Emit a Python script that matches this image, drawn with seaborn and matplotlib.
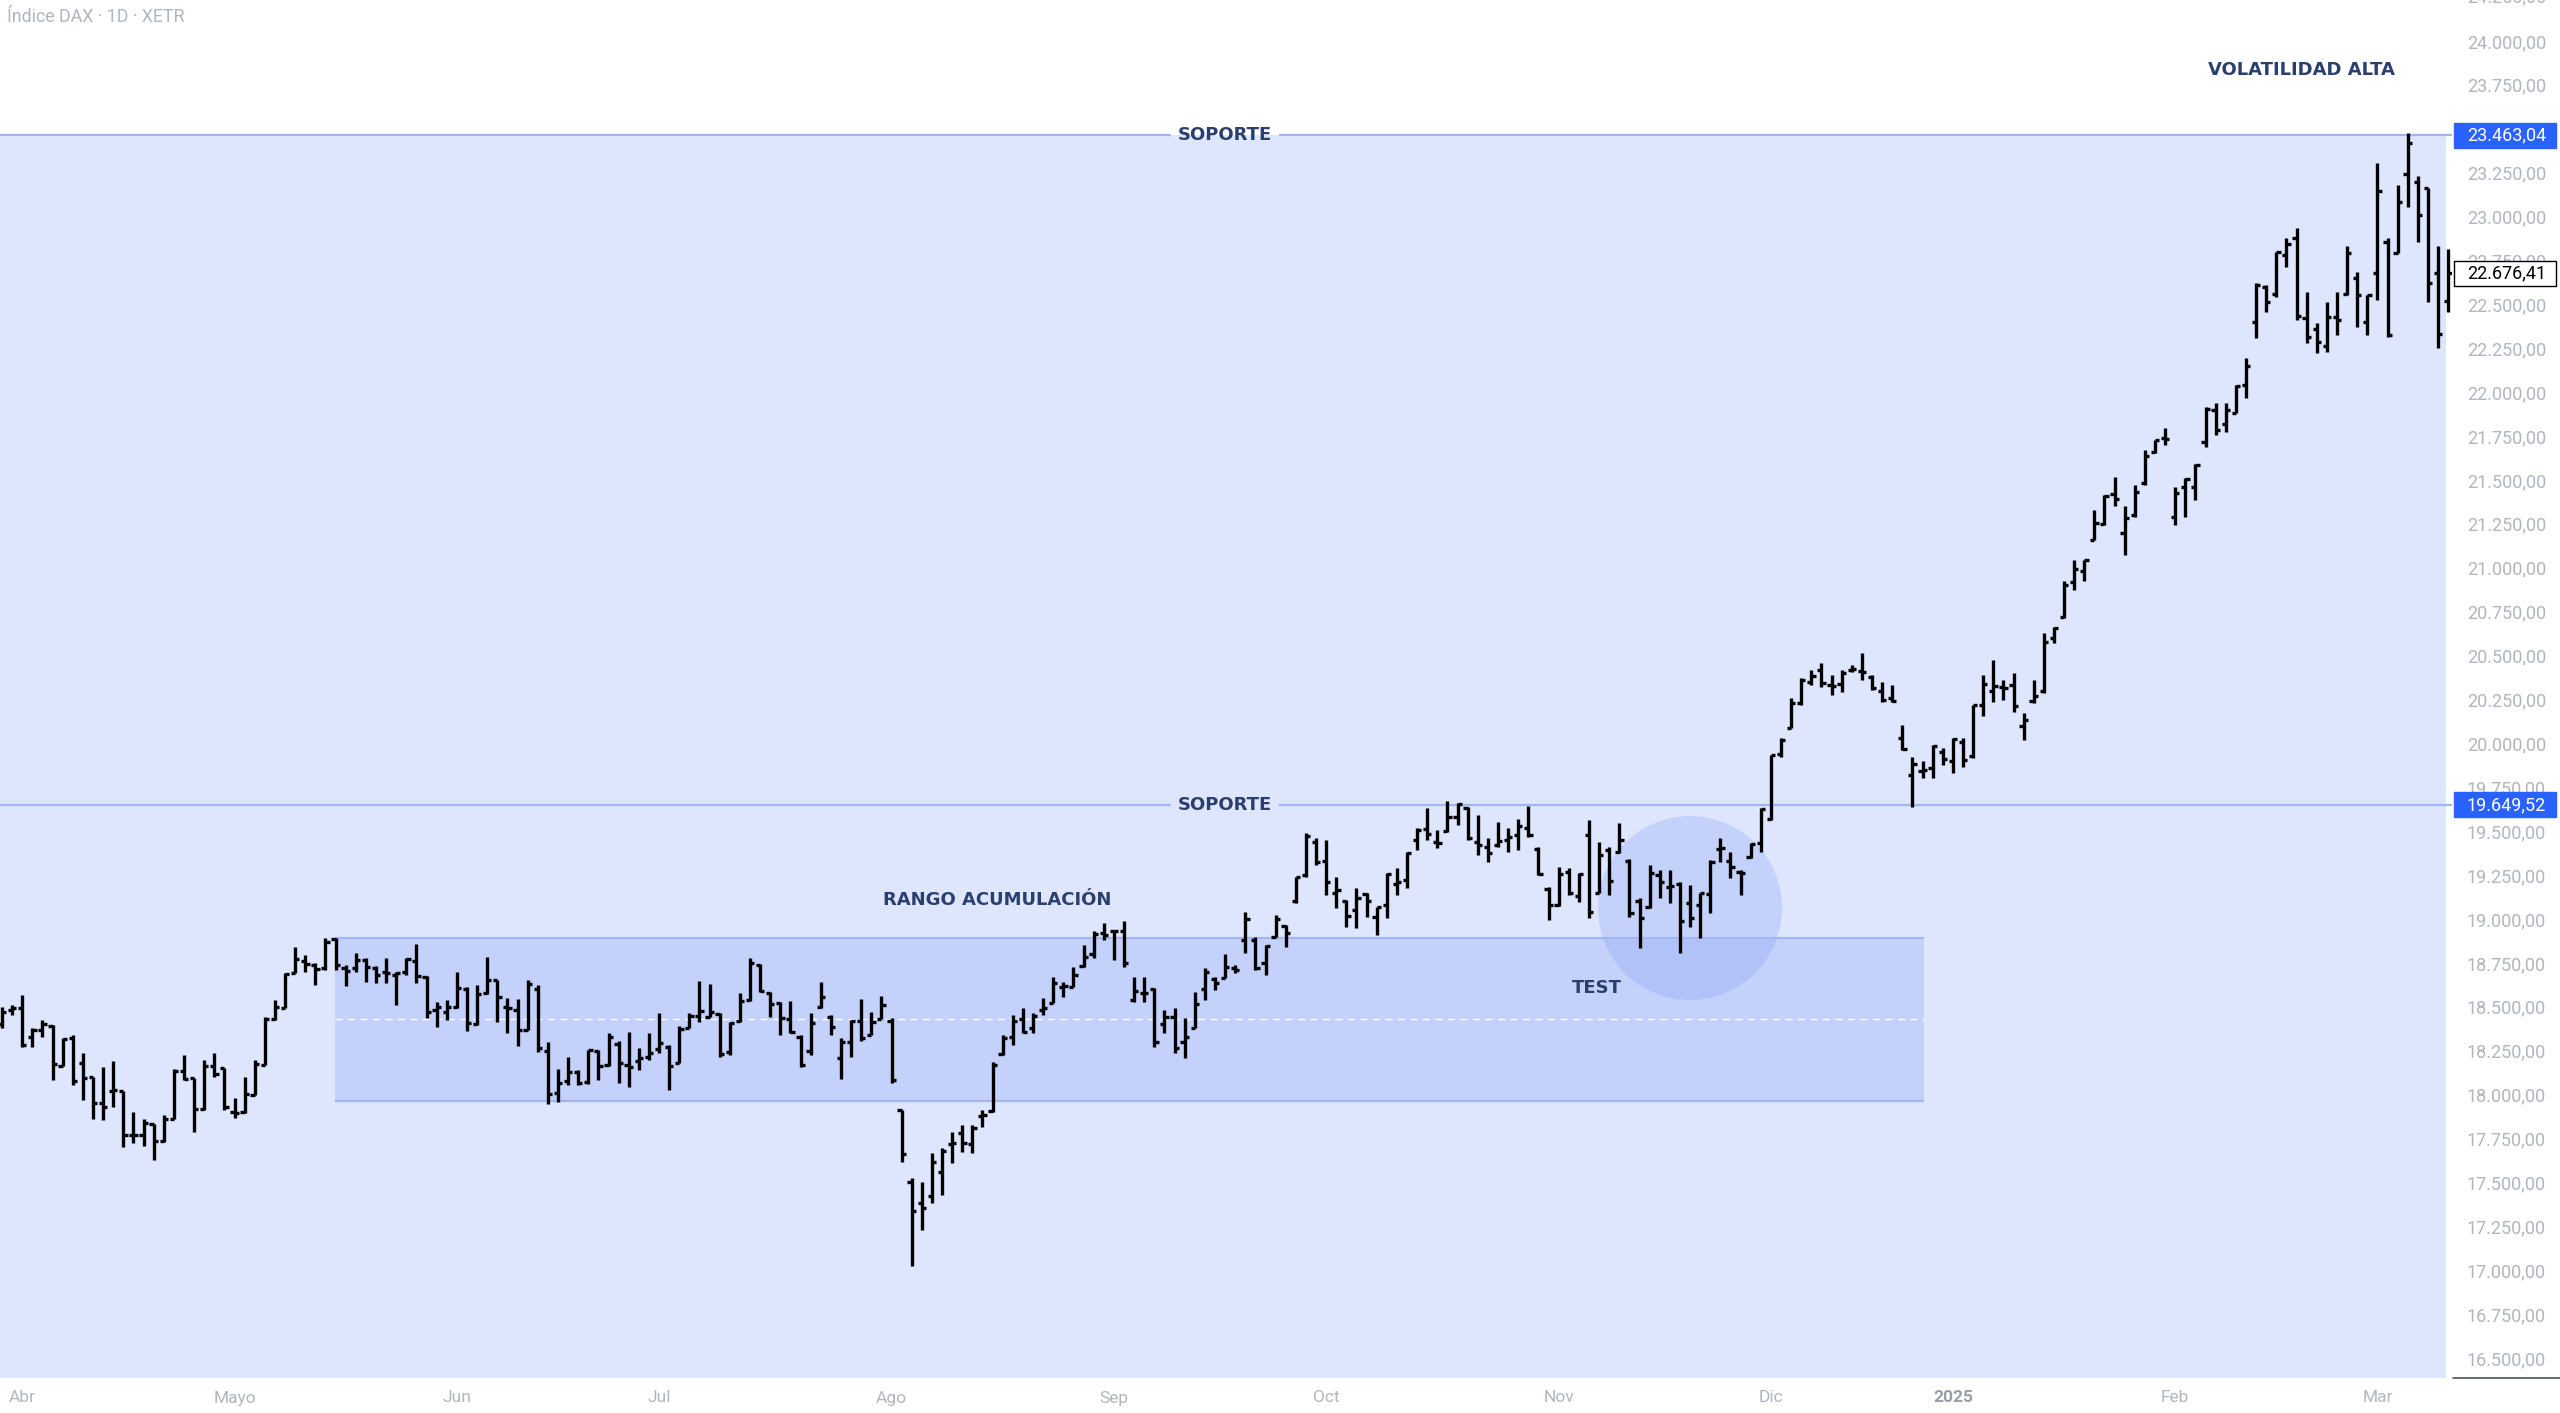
import numpy as np
import pandas as pd
import matplotlib.pyplot as plt
import matplotlib.transforms as mtransforms
from matplotlib.patches import Rectangle, Ellipse
import seaborn as sns

# Xetra trading days shown on the chart (27 Mar 2024 - 12 Mar 2025)
holidays = ['2024-03-29', '2024-04-01', '2024-05-01', '2024-12-24', '2024-12-25',
            '2024-12-26', '2024-12-31', '2025-01-01']
dates = pd.bdate_range('2024-03-27', '2025-03-12')
dates = dates[~dates.isin(pd.to_datetime(holidays))]

open_ = [
    18400, 18480,
    18491, 18330, 18370, 18390, 18160, 18320, 18180, 18100, 17950, 18020,
    18021, 17770, 17770, 17830, 17737, 17860, 18137, 18093, 17920, 18160, 18150,
    17900, 17900, 18000, 18170, 18430, 18495, 18691, 18760, 18740, 18720,
    18885, 18720, 18720, 18768, 18720, 18700, 18680, 18700, 18760, 18670, 18480, 18470,
    18500, 18600, 18402, 18580, 18650, 18500, 18480, 18370, 18600, 18250,
    18010, 18080, 18130, 18070, 18250, 18170, 18290, 18170, 18190, 18215,
    18260, 18270, 18180, 18380, 18450, 18440, 18460, 18240, 18420, 18540,
    18740, 18580, 18520, 18430, 18330, 18250, 18500, 18440, 18210, 18300, 18420, 18340, 18430,
    18420, 17911, 17500, 17380, 17420, 17560, 17720, 17780, 17720, 17880,
    17905, 18230, 18330, 18430, 18380, 18480, 18520, 18610, 18615, 18730, 18800, 18920,
    18930, 18930, 18540, 18580, 18600, 18400, 18440, 18300, 18380, 18600,
    18660, 18665, 18720, 18880, 18880, 18750, 18900, 18960, 19100, 19250, 19440,
    19330, 19150, 19100, 19050, 19140, 19010, 19080, 19200, 19220, 19450,
    19510, 19440, 19500, 19580, 19630, 19440, 19410, 19420, 19450, 19480, 19520, 19400, 19170,
    19080, 19270, 19130, 19480, 19150, 19390, 19380, 19330, 19100, 19070,
    19250, 19180, 19200, 19090, 19080, 19140, 19400, 19330, 19270, 19350, 19430,
    19570, 19940, 20090, 20230, 20350, 20420, 20330, 20340, 20420, 20410,
    20380, 20300, 20260, 20030, 19821, 19840, 19860, 19950,
    19900, 20010, 19930, 20220, 20300, 20320, 20330, 20100, 20240, 20300,
    20600, 20720, 20920, 20980, 21160, 21250, 21420, 21200, 21300, 21480, 21660, 21740,
    21291, 21460, 21460, 21718, 21900, 21820, 21880, 22040, 22402, 22600,
    22560, 22780, 22880, 22420, 22360, 22260, 22430, 22560, 22650, 22402,
    22677, 22857, 22795, 23243, 23199, 23161, 22677, 22520,
]

high = [
    18501, 18510,
    18567, 18377, 18425, 18397, 18320, 18340, 18239, 18102, 18159, 18191,
    18021, 17903, 17859, 17833, 17884, 18144, 18226, 18093, 18197, 18235, 18150,
    17979, 18102, 18197, 18444, 18539, 18691, 18842, 18795, 18747, 18892,
    18890, 18738, 18804, 18775, 18730, 18775, 18700, 18776, 18856, 18675, 18529, 18538,
    18700, 18611, 18624, 18782, 18652, 18552, 18542, 18653, 18624, 18301,
    18144, 18216, 18140, 18254, 18254, 18353, 18307, 18358, 18263, 18349,
    18462, 18282, 18390, 18462, 18648, 18630, 18466, 18415, 18576, 18776,
    18743, 18586, 18529, 18535, 18339, 18466, 18643, 18453, 18320, 18424, 18542, 18472, 18561,
    18434, 17912, 17523, 17504, 17665, 17694, 17789, 17827, 17825, 17912,
    18188, 18339, 18453, 18491, 18463, 18548, 18672, 18643, 18725, 18852, 18933, 18975,
    18937, 18990, 18672, 18672, 18605, 18482, 18491, 18434, 18586, 18719,
    18672, 18801, 18738, 19041, 18899, 18851, 19022, 18965, 19241, 19487, 19459,
    19449, 19241, 19108, 19174, 19146, 19070, 19260, 19288, 19380, 19516,
    19630, 19506, 19673, 19658, 19639, 19592, 19459, 19554, 19516, 19567, 19643, 19411, 19184,
    19298, 19289, 19260, 19564, 19441, 19412, 19545, 19340, 19118, 19308,
    19279, 19279, 19213, 19194, 19146, 19336, 19460, 19384, 19279, 19431, 19630,
    19934, 20029, 20257, 20371, 20418, 20460, 20390, 20418, 20447, 20517,
    20390, 20352, 20333, 20105, 19925, 19897, 19990, 19973,
    20030, 20030, 20219, 20390, 20476, 20362, 20400, 20172, 20362, 20627,
    20665, 20922, 21045, 21045, 21330, 21415, 21519, 21349, 21472, 21671, 21728, 21794,
    21462, 21510, 21590, 21918, 21940, 21940, 22041, 22193, 22620, 22611,
    22800, 22876, 22933, 22573, 22392, 22516, 22573, 22833, 22686, 22554,
    23307, 22876, 23180, 23476, 23231, 23161, 22833, 22815,
]

low = [
    18377, 18455,
    18273, 18273, 18330, 18083, 18160, 18055, 17969, 17859, 17855, 17931,
    17704, 17726, 17709, 17626, 17732, 17860, 18083, 17789, 17912, 18102, 17912,
    17865, 17894, 18000, 18169, 18425, 18491, 18691, 18700, 18624, 18709,
    18709, 18618, 18700, 18640, 18634, 18634, 18510, 18681, 18634, 18434, 18387, 18425,
    18491, 18364, 18396, 18575, 18415, 18349, 18277, 18368, 18244, 17946,
    17960, 18055, 18055, 18060, 18083, 18160, 18068, 18045, 18140, 18197,
    18235, 18026, 18178, 18377, 18415, 18440, 18212, 18225, 18415, 18530,
    18586, 18443, 18339, 18349, 18159, 18225, 18491, 18339, 18087, 18216, 18307, 18339, 18428,
    18064, 17618, 17024, 17229, 17381, 17428, 17609, 17675, 17666, 17818,
    17903, 18226, 18282, 18349, 18349, 18453, 18520, 18558, 18615, 18729, 18776, 18880,
    18766, 18725, 18529, 18529, 18273, 18349, 18235, 18207, 18377, 18539,
    18596, 18662, 18690, 18804, 18709, 18681, 18899, 18842, 19089, 19241, 19307,
    19136, 19060, 18956, 18946, 19013, 18908, 19003, 19136, 19174, 19392,
    19449, 19402, 19497, 19535, 19449, 19364, 19326, 19411, 19383, 19392, 19465, 19250, 18994,
    19071, 19137, 19099, 19004, 19147, 19137, 19374, 19014, 18833, 19061,
    19118, 19090, 18805, 18957, 18890, 19033, 19327, 19232, 19137, 19346, 19384,
    19564, 19925, 20086, 20219, 20333, 20323, 20276, 20295, 20409, 20361,
    20305, 20238, 20238, 19963, 19640, 19802, 19802, 19878,
    19830, 19868, 19916, 20153, 20238, 20248, 20181, 20020, 20229, 20286,
    20570, 20713, 20874, 20922, 21159, 21244, 21349, 21073, 21291, 21472, 21652, 21699,
    21244, 21291, 21386, 21690, 21756, 21775, 21880, 21965, 22307, 22459,
    22544, 22715, 22411, 22278, 22221, 22231, 22326, 22554, 22373, 22326,
    22525, 22316, 22791, 23053, 22857, 22516, 22250, 22457,
]

close = [
    18472, 18492,
    18283, 18367, 18403, 18175, 18318, 18077, 18097, 17954, 17930, 18026,
    17767, 17770, 17837, 17737, 17860, 18137, 18088, 17917, 18161, 18118, 17932,
    17896, 18001, 18175, 18430, 18498, 18686, 18772, 18742, 18716, 18869,
    18738, 18704, 18768, 18726, 18680, 18691, 18693, 18774, 18677, 18473, 18496, 18498,
    18608, 18405, 18571, 18652, 18557, 18494, 18370, 18630, 18265, 18002,
    18068, 18131, 18067, 18254, 18163, 18325, 18178, 18155, 18211, 18235,
    18291, 18164, 18374, 18450, 18475, 18472, 18231, 18407, 18534, 18748,
    18590, 18518, 18437, 18354, 18171, 18407, 18558, 18387, 18301, 18417, 18320, 18411, 18508,
    18083, 17661, 17339, 17354, 17615, 17680, 17722, 17726, 17812, 17885,
    18166, 18322, 18421, 18356, 18448, 18493, 18633, 18617, 18681, 18782, 18912, 18906,
    18930, 18747, 18591, 18576, 18301, 18443, 18265, 18330, 18518, 18699,
    18633, 18726, 18711, 19002, 18720, 18847, 18997, 18918, 19238, 19474, 19325,
    19213, 19165, 19015, 19121, 19104, 19066, 19254, 19210, 19373, 19508,
    19486, 19432, 19583, 19657, 19461, 19421, 19377, 19443, 19464, 19532, 19479, 19258, 19078,
    19254, 19148, 19256, 19039, 19362, 19215, 19449, 19034, 19003, 19263,
    19211, 19189, 18988, 19004, 19146, 19323, 19406, 19295, 19261, 19425, 19626,
    19934, 20017, 20232, 20359, 20385, 20346, 20329, 20399, 20426, 20406,
    20314, 20246, 20242, 19970, 19885, 19848, 19984, 19909,
    20024, 19906, 20216, 20340, 20329, 20317, 20215, 20133, 20271, 20575,
    20655, 20903, 20990, 21042, 21254, 21411, 21394, 21282, 21430, 21637, 21727, 21732,
    21428, 21505, 21585, 21902, 21787, 21900, 22037, 22148, 22612, 22513,
    22798, 22844, 22434, 22314, 22287, 22426, 22410, 22795, 22551, 22551,
    23147, 22327, 23081, 23419, 23009, 22620, 22329, 22676.41,
]

month_labels = ['Abr', 'Mayo', 'Jun', 'Jul', 'Ago', 'Sep', 'Oct', 'Nov', 'Dic', '2025', 'Feb', 'Mar']

support_top = 23463.04
support_low = 19649.52
last_price = 22676.41
range_top = 18893
range_bottom = 17963

df = pd.DataFrame({'Date': dates, 'Open': open_, 'High': high, 'Low': low, 'Close': close})
df['idx'] = np.arange(len(df))
df['High'] = df[['Open', 'High', 'Close']].max(axis=1)
df['Low'] = df[['Open', 'Low', 'Close']].min(axis=1)

# first trading day of every month except the partial March 2024
month_idx = df.groupby(df['Date'].dt.to_period('M'))['idx'].first().values[1:]


def fmt(v):
    return f'{v:,.2f}'.replace(',', 'X').replace('.', ',').replace('X', '.')


sns.set_theme(style='white')
plt.rcParams['font.family'] = ['Roboto', 'DejaVu Sans']

W, H = 2560, 1413
fig = plt.figure(figsize=(W / 100, H / 100), dpi=100)
ax = fig.add_axes([0, 35 / H, 2452 / W, 1378 / H])
x0, x1 = -0.2, 242.38
y0, y1 = 16386, 24233
ax.set_xlim(x0, x1)
ax.set_ylim(y0, y1)
ax.set_facecolor('white')
for s in ax.spines.values():
    s.set_visible(False)
ax.grid(False)

band_c = '#DEE6FD'
line_c = '#A3B6F2'
zone_c = (120 / 255, 150 / 255, 245 / 255, 0.25)
label_c = '#2B3F6E'
tick_c = '#B2B5BE'

# big support zone
ax.add_patch(Rectangle((x0, y0), 241.8 - x0, support_top - y0,
                       facecolor=band_c, edgecolor='none', zorder=0.5))

# accumulation range
ax.add_patch(Rectangle((32.94, range_bottom), 190.1 - 32.94, range_top - range_bottom,
                       facecolor=zone_c, edgecolor='none', zorder=1))
ax.hlines([range_top, range_bottom], 32.94, 190.1, color=line_c, lw=1.6, zorder=1.2)
ax.hlines((range_top + range_bottom) / 2, 32.94, 190.1, color='white', lw=1,
          linestyles=(0, (5, 4)), zorder=1.2)

# test circle
ax.add_patch(Ellipse((167.0, 19062), width=18.2, height=1048,
                     facecolor=zone_c, edgecolor='none', zorder=1.1))

# support lines, broken around the label
for level in [support_top, support_low]:
    ax.hlines(level, x0, 115.6, color=line_c, lw=1.6, zorder=1.5)
    ax.hlines(level, 126.3, x1, color=line_c, lw=1.6, zorder=1.5)
    ax.text(121.0, level, 'SOPORTE', ha='center', va='center', color=label_c,
            fontsize=13, fontweight='bold', family='DejaVu Sans', zorder=4)

# OHLC bars
bar_w = 0.42
ax.vlines(df['idx'], df['Low'], df['High'], color='black', lw=2.4, zorder=3)
ax.hlines(df['Open'], df['idx'] - bar_w, df['idx'], color='black', lw=2.4, zorder=3)
ax.hlines(df['Close'], df['idx'], df['idx'] + bar_w, color='black', lw=2.4, zorder=3)

# annotations
ax.text(98.5, 19108, 'RANGO ACUMULACIÓN', ha='center', va='center', color=label_c,
        fontsize=13, fontweight='bold', family='DejaVu Sans', zorder=4)
ax.text(157.8, 18607, 'TEST', ha='center', va='center', color=label_c,
        fontsize=13, fontweight='bold', family='DejaVu Sans', zorder=4)
ax.text(227.5, 23835, 'VOLATILIDAD ALTA', ha='center', va='center', color=label_c,
        fontsize=13, fontweight='bold', family='DejaVu Sans', zorder=4)

# price scale on the right
yticks = np.arange(16500, 24001, 250)
ax.yaxis.tick_right()
ax.set_yticks(yticks)
ax.set_yticklabels([fmt(v) for v in yticks])
ax.tick_params(axis='y', length=0, pad=10.8, labelsize=13, labelcolor=tick_c)
blend = mtransforms.blended_transform_factory(ax.transAxes, ax.transData)
ax.text(2467 / 2452, 24250, fmt(24250), transform=blend, ha='left', va='center',
        fontsize=13, color=tick_c, clip_on=False)

# time scale
ax.set_xticks(month_idx)
ax.set_xticklabels(month_labels)
ax.tick_params(axis='x', length=0, pad=9, labelsize=12.5, labelcolor=tick_c)
for lbl in ax.get_xticklabels():
    if lbl.get_text() == '2025':
        lbl.set_fontweight('bold')
        lbl.set_color('#9A9DA5')

# price labels on the scale
half = 12.5 * (y1 - y0) / 1378


def price_box(v, face, edge, txt):
    ax.add_patch(Rectangle((2454 / 2452, v - half), 102 / 2452, 2 * half, transform=blend,
                           facecolor=face, edgecolor=edge, lw=1, clip_on=False, zorder=5))
    ax.text(2467 / 2452, v, fmt(v), transform=blend, ha='left', va='center',
            fontsize=13, color=txt, clip_on=False, zorder=6)


price_box(support_top, '#2962FF', '#2962FF', 'white')
price_box(support_low, '#2962FF', '#2962FF', 'white')
price_box(last_price, 'white', 'black', 'black')

ax.plot([2453 / 2452, 2560 / 2452], [y0, y0], transform=blend, color='#50535E',
        lw=1.2, clip_on=False)

fig.text(7 / W, 1 - 17 / H, 'Índice DAX · 1D · XETR', ha='left', va='center',
         fontsize=12.8, color=tick_c)

fig.savefig('out.png', dpi=100)
